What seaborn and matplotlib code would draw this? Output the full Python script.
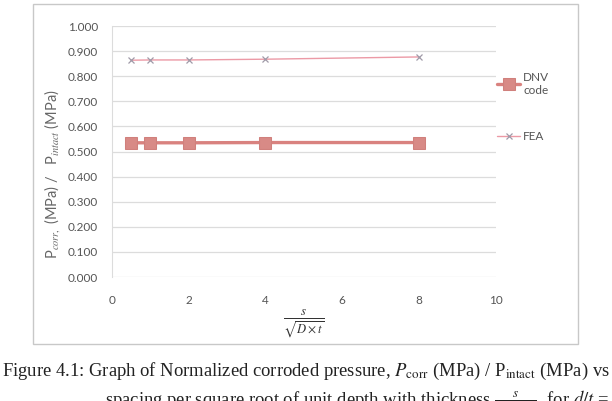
import numpy as np
import pandas as pd
import seaborn as sns
import matplotlib.pyplot as plt
from matplotlib.patches import Rectangle

# Spacing ratio s / sqrt(D x t)
spacing = [0.5, 1, 2, 4, 8]

# Normalized corroded pressure
dnv_code = [0.535, 0.535, 0.535, 0.536, 0.536]
fea = [0.864, 0.865, 0.865, 0.868, 0.877]

y_ticks = [0.0, 0.1, 0.2, 0.3, 0.4, 0.5, 0.6, 0.7, 0.8, 0.9, 1.0]
x_ticks = [0, 2, 4, 6, 8, 10]

data = pd.DataFrame({'spacing': spacing, 'DNV code': dnv_code, 'FEA': fea})

sns.set_style('white')
plt.rcParams['font.family'] = ['Lato', 'DejaVu Sans']
plt.rcParams['mathtext.fontset'] = 'stix'

fig = plt.figure(figsize=(6.12, 4.01), dpi=100)

# chart frame (Excel chart area)
frame = Rectangle((0.054, 0.142), 0.890, 0.848, transform=fig.transFigure,
                  facecolor='none', edgecolor='#c8c8c8', linewidth=1.0, zorder=-1)
fig.add_artist(frame)

ax = fig.add_axes([0.183, 0.309, 0.627, 0.626])
ax.set_facecolor('none')

sns.lineplot(x='spacing', y='DNV code', data=data, ax=ax, color='#d9827f',
             marker='s', markersize=8, markeredgecolor='#d0807c', markerfacecolor='#d88a86',
             linewidth=2.4, label='DNV\ncode')
sns.lineplot(x='spacing', y='FEA', data=data, ax=ax, color='#ec9aa6',
             marker='x', markersize=5, markeredgecolor='#a09aa8', markeredgewidth=0.9,
             linewidth=1.0, label='FEA')

ax.set_xlim(0, 10)
ax.set_ylim(0, 1.0)
ax.set_xticks(x_ticks)
ax.set_yticks(y_ticks)
ax.set_yticklabels([f'{v:.3f}' for v in y_ticks])
ax.tick_params(axis='both', labelsize=8.5, colors='#555555', length=0)
ax.tick_params(axis='x', pad=13)
ax.tick_params(axis='y', pad=10)

ax.set_axisbelow(True)
ax.yaxis.grid(True, color='#dcdcdc', linewidth=0.9)
ax.xaxis.grid(False)
for side in ['top', 'right', 'bottom']:
    ax.spines[side].set_visible(False)
ax.spines['left'].set_color('#dcdcdc')

ax.set_xlabel(r'$\frac{s}{\sqrt{D\times t}}$', fontsize=13,
              color='#333333', labelpad=1)
ax.set_ylabel(r'P$_{corr,}$ (MPa) /   P$_{intact}$ (MPa)', fontsize=10.5, color='#666666')
ax.yaxis.set_label_coords(-0.13, 0.41)

leg = ax.legend(loc='upper left', bbox_to_anchor=(0.975, 0.86), frameon=False,
                fontsize=8.5, labelspacing=3.0, handlelength=2.0, handletextpad=0.25)
for t in leg.get_texts():
    t.set_color('#555555')

# caption
fig.text(0.003, 0.062, 'Figure 4.1: Graph of Normalized corroded pressure, $P_{\\rm corr}$ (MPa) / P$_{\\rm intact}$ (MPa) vs',
         fontsize=13.4, family='Liberation Serif', color='#222222', va='baseline')
fig.text(0.172, -0.012, 'spacing per square root of unit depth with thickness $\\frac{s}{\\sqrt{D\\times t}}$, for $d/t$ = 0.1',
         fontsize=13.4, family='Liberation Serif', color='#222222', va='baseline')

fig.savefig('out.png', dpi=100)
